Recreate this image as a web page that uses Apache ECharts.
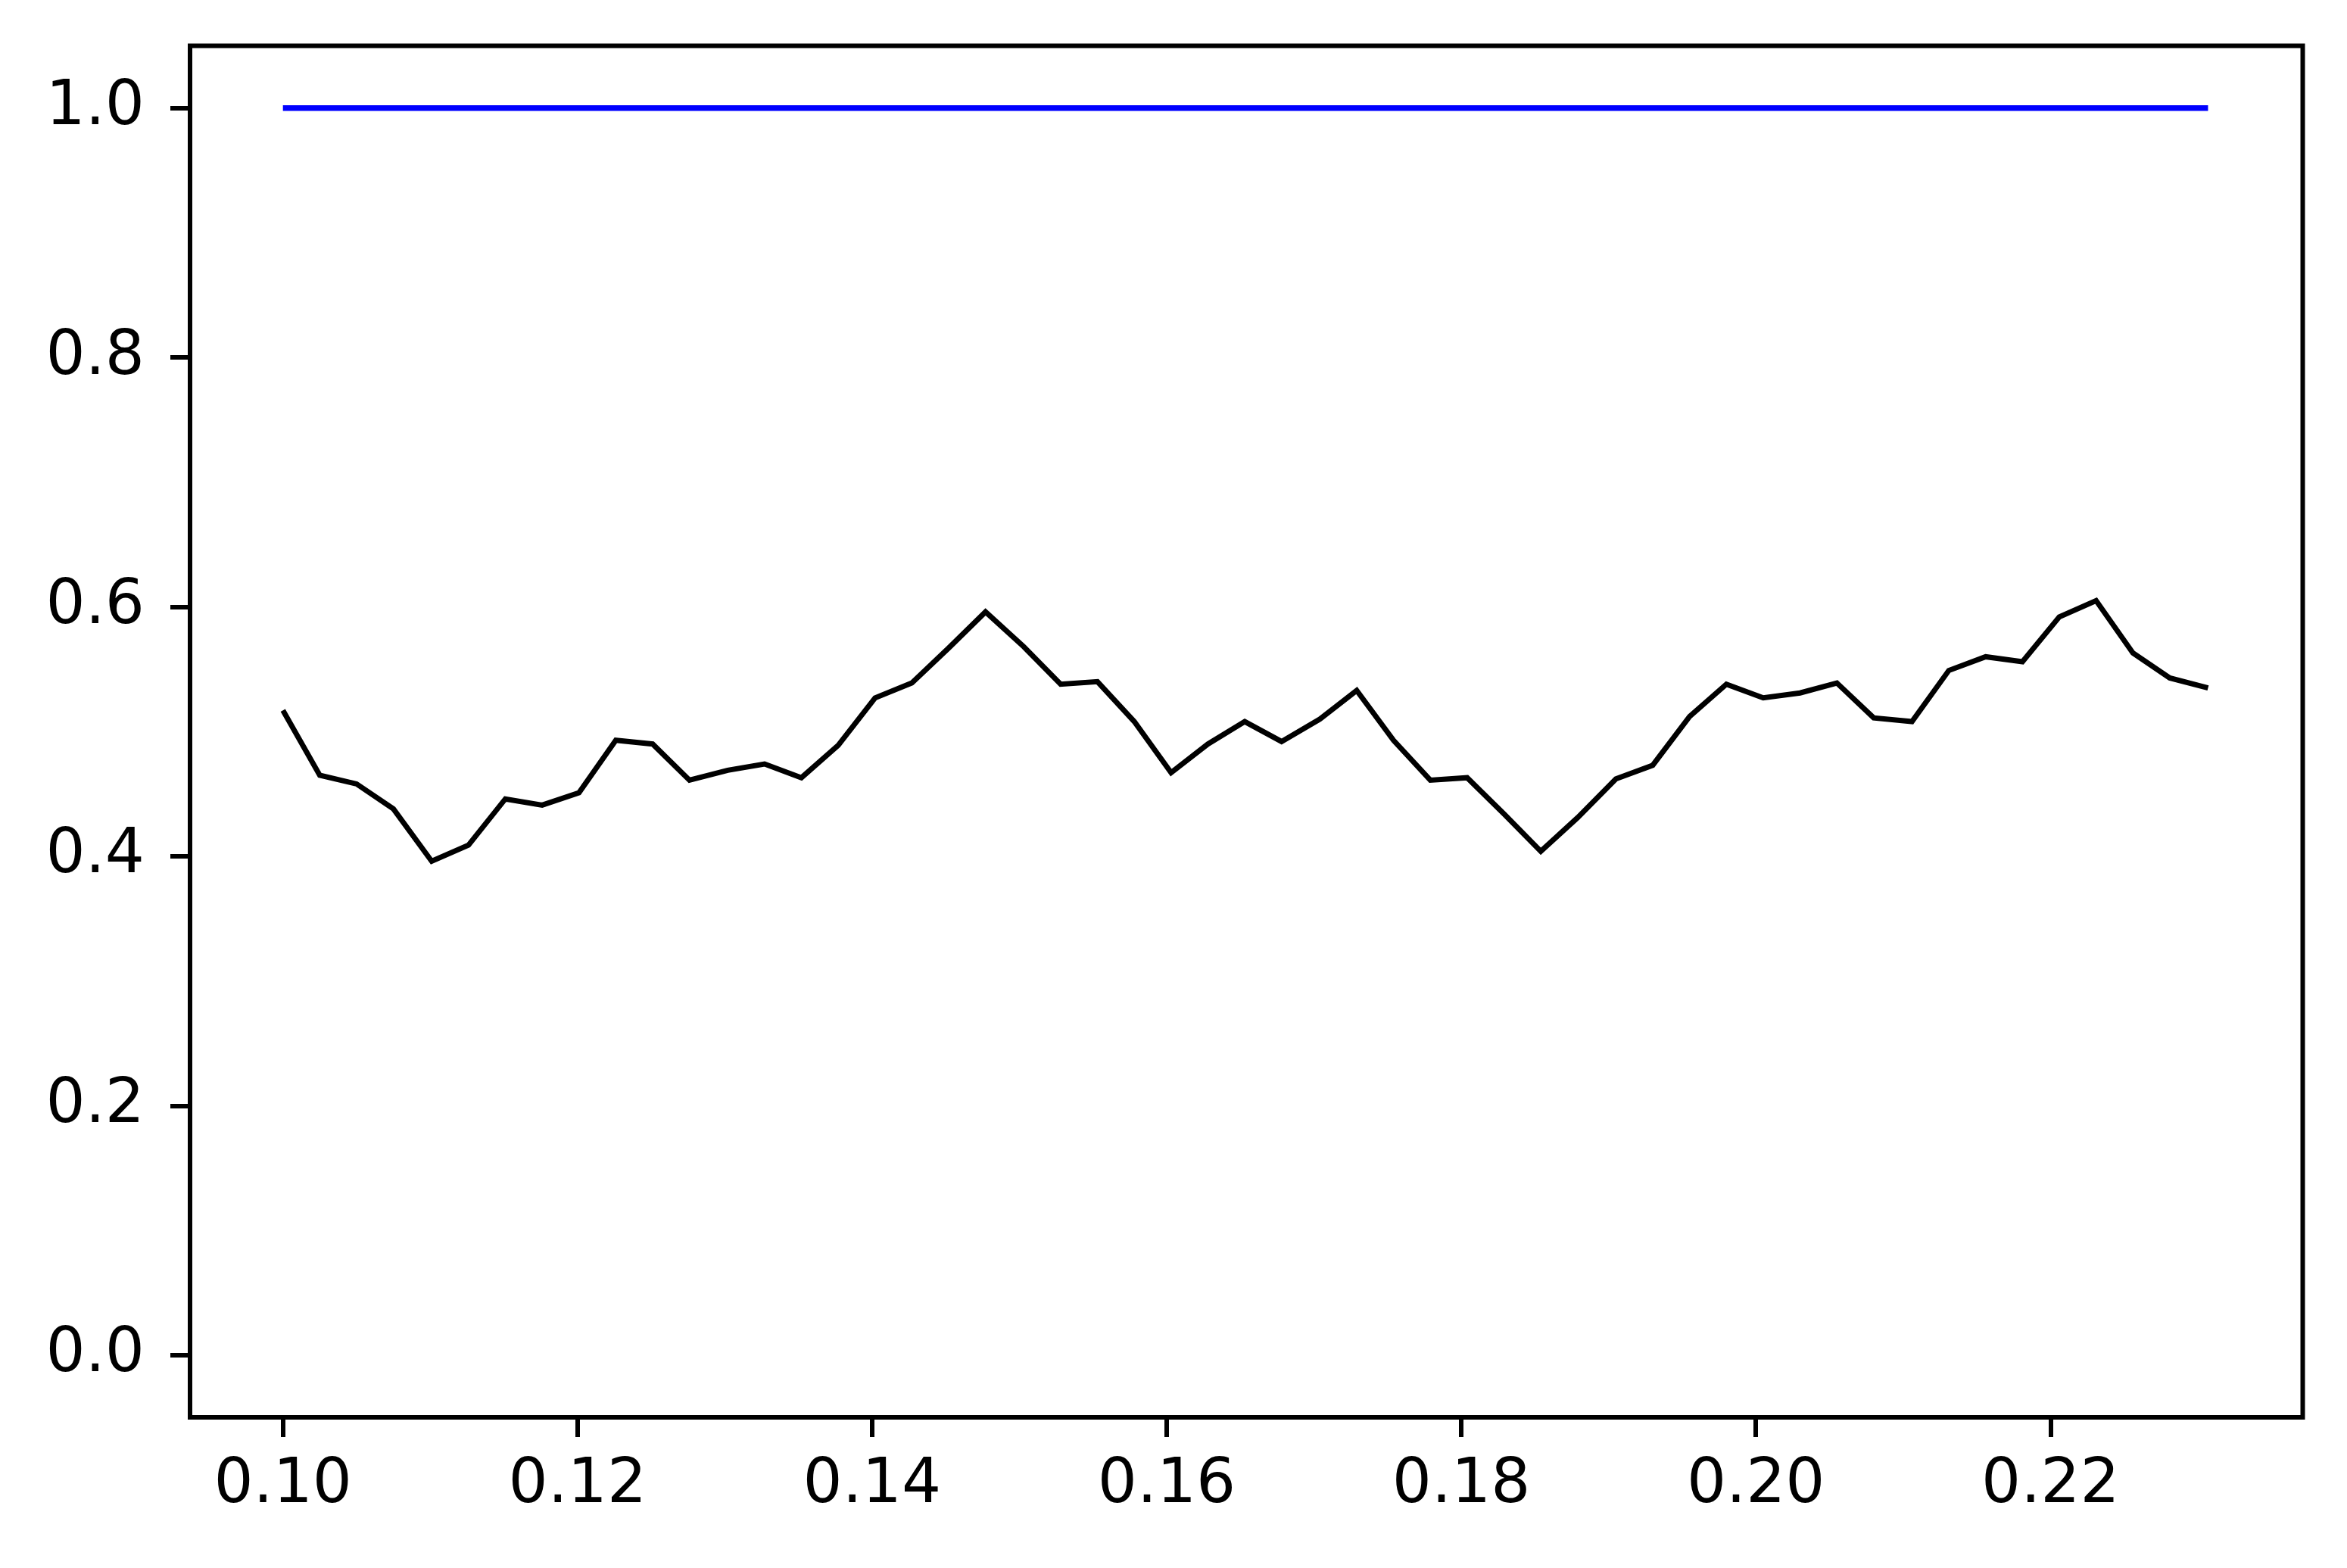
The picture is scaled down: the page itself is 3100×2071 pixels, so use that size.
<!DOCTYPE html>
<html>
<head>
<meta charset="utf-8">
<script src="https://cdn.jsdelivr.net/npm/echarts@6/dist/echarts.min.js"></script>
<style>
html,body{margin:0;padding:0;background:#fff;}
#chart{width:3100px;height:2071px;}
</style>
</head>
<body>
<div id="chart"></div>
<script>
// x positions of the samples
var xValues = [
  0.1000, 0.1025, 0.1050, 0.1075, 0.1101, 0.1126, 0.1151, 0.1176, 0.1201, 0.1226,
  0.1251, 0.1276, 0.1302, 0.1327, 0.1352, 0.1377, 0.1402, 0.1427, 0.1452, 0.1477,
  0.1503, 0.1528, 0.1553, 0.1578, 0.1603, 0.1628, 0.1653, 0.1678, 0.1704, 0.1729,
  0.1754, 0.1779, 0.1804, 0.1829, 0.1854, 0.1879, 0.1905, 0.1930, 0.1955, 0.1980,
  0.2005, 0.2030, 0.2055, 0.2080, 0.2106, 0.2131, 0.2156, 0.2181, 0.2206, 0.2231,
  0.2256, 0.2281, 0.2307
];
// black series
var blackValues = [
  0.517, 0.465, 0.458, 0.438, 0.396, 0.409, 0.446, 0.441, 0.451, 0.493,
  0.490, 0.461, 0.469, 0.474, 0.463, 0.489, 0.527, 0.539, 0.567, 0.596,
  0.568, 0.538, 0.540, 0.508, 0.467, 0.490, 0.508, 0.492, 0.510, 0.533,
  0.493, 0.461, 0.463, 0.434, 0.404, 0.431, 0.462, 0.473, 0.512, 0.538,
  0.527, 0.531, 0.539, 0.511, 0.508, 0.549, 0.560, 0.556, 0.592, 0.605,
  0.563, 0.543, 0.535
];
// blue series (constant)
var blueValues = [
  1.0, 1.0, 1.0, 1.0, 1.0, 1.0, 1.0, 1.0, 1.0, 1.0,
  1.0, 1.0, 1.0, 1.0, 1.0, 1.0, 1.0, 1.0, 1.0, 1.0,
  1.0, 1.0, 1.0, 1.0, 1.0, 1.0, 1.0, 1.0, 1.0, 1.0,
  1.0, 1.0, 1.0, 1.0, 1.0, 1.0, 1.0, 1.0, 1.0, 1.0,
  1.0, 1.0, 1.0, 1.0, 1.0, 1.0, 1.0, 1.0, 1.0, 1.0,
  1.0, 1.0, 1.0
];
var xTicks = [0.10, 0.12, 0.14, 0.16, 0.18, 0.20, 0.22];
var yTicks = [0.0, 0.2, 0.4, 0.6, 0.8, 1.0];

function pairs(xs, ys) {
  var out = [];
  for (var i = 0; i < xs.length; i++) out.push([xs[i], ys[i]]);
  return out;
}

var chart = echarts.init(document.getElementById('chart'), null, {renderer: 'canvas'});
var font = 'DejaVu Sans';
chart.setOption({
  animation: false,
  backgroundColor: '#ffffff',
  grid: {
    left: 251, right: 58.5, top: 60.5, bottom: 199,
    show: true, borderColor: '#000000', borderWidth: 6, backgroundColor: 'transparent',
    containLabel: false
  },
  xAxis: {
    type: 'value',
    min: 0.093693, max: 0.237127,
    position: 'bottom',
    splitLine: {show: false},
    axisLine: {show: false, onZero: false},
    axisTick: {show: true, inside: false, length: 26, lineStyle: {color: '#000', width: 6}, customValues: xTicks},
    axisLabel: {
      show: true, margin: 50, color: '#000', fontFamily: font, fontSize: 82,
      customValues: xTicks,
      formatter: function (v) { return v.toFixed(2); }
    }
  },
  yAxis: {
    type: 'value',
    min: -0.05, max: 1.05,
    position: 'left',
    splitLine: {show: false},
    axisLine: {show: false, onZero: false},
    axisTick: {show: true, inside: false, length: 26, lineStyle: {color: '#000', width: 6}, customValues: yTicks},
    axisLabel: {
      show: true, margin: 60, color: '#000', fontFamily: font, fontSize: 82,
      customValues: yTicks,
      formatter: function (v) { return v.toFixed(1); }
    }
  },
  series: [
    {
      type: 'line', data: pairs(xValues, blueValues), showSymbol: false, symbol: 'none',
      lineStyle: {color: '#0000ff', width: 7.5, cap: 'butt'}, silent: true
    },
    {
      type: 'line', data: pairs(xValues, blackValues), showSymbol: false, symbol: 'none',
      lineStyle: {color: '#000000', width: 7, cap: 'butt', join: 'miter'}, silent: true
    }
  ]
});
</script>
</body>
</html>
